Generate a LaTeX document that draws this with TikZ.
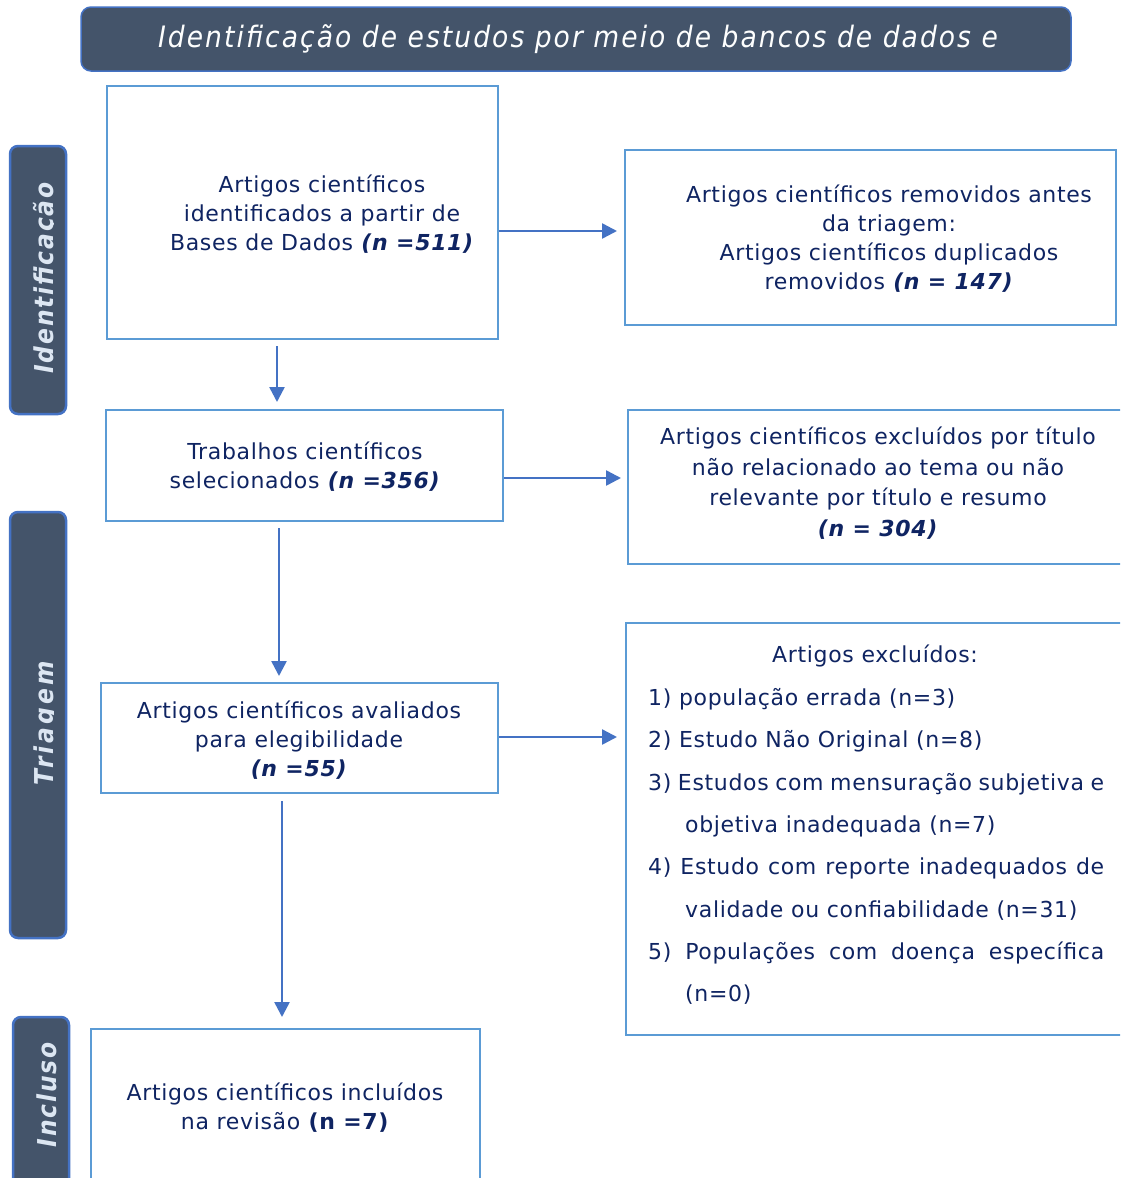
\documentclass[tikz,border=0pt]{standalone}
\usepackage{fontspec}
\setmainfont{DejaVu Sans}[LetterSpace=3]
\newfontfamily\hdrfont{DejaVu Sans Condensed}[LetterSpace=7]
\newfontfamily\sidefont{DejaVu Sans Condensed}[LetterSpace=7]
\newfontfamily\sidefontw{DejaVu Sans Condensed}[LetterSpace=12]
\usetikzlibrary{arrows.meta}
\definecolor{hdr}{HTML}{44546A}
\definecolor{edge}{HTML}{4472C4}
\definecolor{boxline}{HTML}{5B9BD5}
\definecolor{txt}{HTML}{0F2462}
\definecolor{lbl}{HTML}{DCE6F2}
\newcommand{\bi}[1]{\textbf{\textit{#1}}}
\tikzset{
  pbox/.style={draw=boxline, line width=2pt, fill=white, inner sep=0pt},
  side/.style={draw=edge, line width=2.5pt, fill=hdr, rounded corners=8pt, inner sep=0pt, minimum width=56pt},
  sidetxt/.style={text=lbl, font=\sidefont\fontsize{26}{30}\selectfont\bfseries\itshape, rotate=90, anchor=base, inner sep=0pt},
  body/.style={text=txt, font=\fontsize{22}{29}\selectfont, align=center, inner sep=0pt},
  item/.style={text=txt, font=\fontsize{22}{29}\selectfont, anchor=base west, inner sep=0pt},
  arr/.style={draw=edge, line width=2.5pt, -{Triangle[length=15pt,width=15pt]}}
}
\begin{document}
\begin{tikzpicture}[x=1pt,y=-1pt]
\useasboundingbox (0,0) rectangle (1120,1178);
\clip (0,0) rectangle (1120,1178);
\fill[white] (0,0) rectangle (1120,1178);
% header
\node[draw=edge, line width=1.5pt, fill=hdr, rounded corners=10pt, minimum width=990pt, minimum height=64pt, inner sep=0pt] (hd) at (576,39) {};
\node[text=white!95!lbl, font=\hdrfont\fontsize{29.5}{32}\selectfont\itshape, inner sep=0pt] (hdt) at (578,39) {Identificação de estudos por meio de bancos de dados e};
% side labels
\node[side, minimum height=268pt] (s1) at (38,280) {};
\node[side, minimum height=426pt] (s2) at (38,725) {};
\node[side, minimum height=190pt] (s3) at (41,1112) {};
\begin{scope}
\clip (0,0) rectangle (53,1178);
\node[sidetxt] (s1t) at (53,278) {Identificação};
\node[sidetxt, font=\sidefontw\fontsize{26}{30}\selectfont\bfseries\itshape] (s2t) at (53,723) {Triagem};
\end{scope}
\node[sidetxt] (s3t) at (56,1095) {Incluso};
% boxes
\node[pbox, minimum width=391pt, minimum height=253pt] (b1) at (302.5,212.5) {};
\node[pbox, minimum width=491pt, minimum height=175pt] (b2) at (870.5,237.5) {};
\node[pbox, minimum width=397pt, minimum height=111pt] (b3) at (304.5,465.5) {};
\node[pbox, minimum width=502pt, minimum height=154pt] (b4) at (879,487) {};
\node[pbox, minimum width=397pt, minimum height=110pt] (b5) at (299.5,738) {};
\node[pbox, minimum width=504pt, minimum height=412pt] (b6) at (878,829) {};
\node[pbox, minimum width=389pt, minimum height=171pt] (b7) at (285.5,1114.5) {};
% texts
\node[body] (t1) at (322,214) {Artigos científicos\\identificados a partir de\\Bases de Dados \bi{(n =511)}};
\node[body] (t2) at (889,239) {Artigos científicos removidos antes\\da triagem:\\Artigos científicos duplicados\\removidos \bi{(n = 147)}};
\node[body] (t3) at (305,467) {Trabalhos científicos\\selecionados \bi{(n =356)}};
\node[body, font=\fontsize{22}{30.7}\selectfont] (t4) at (878,483) {Artigos científicos excluídos por título\\não relacionado ao tema ou não\\relevante por título e resumo\\\bi{(n = 304)}};
\node[body] (t5) at (299,740) {Artigos científicos avaliados\\para elegibilidade\\\bi{(n =55)}};
\node[body] (t7) at (285,1108) {Artigos científicos incluídos\\na revisão \textbf{(n =7)}};
% exclusion list
\node[item, anchor=base] (l0) at (875,662) {Artigos excluídos:};
\node[item] (l1) at (648,705) {1) população errada (n=3)};
\node[item] (l2) at (648,747) {2) Estudo Não Original (n=8)};
\node[item] (l3) at (648,790) {\makebox[456pt][s]{3) Estudos com mensuração subjetiva e}};
\node[item] (l4) at (685,832) {objetiva inadequada (n=7)};
\node[item] (l5) at (648,874) {\makebox[456pt][s]{4) Estudo com reporte inadequados de}};
\node[item] (l6) at (685,917) {validade ou confiabilidade (n=31)};
\node[item] (l7) at (648,959) {\makebox[456pt][s]{5) Populações com doença específica}};
\node[item] (l8) at (685,1001) {(n=0)};
% arrows
\draw[arr] ([yshift=-18.5pt]b1.east) -- ([yshift=6.5pt,xshift=-7pt]b2.west);
\draw[arr] ([xshift=-25.5pt,yshift=-6pt]b1.south) -- ([xshift=-27.5pt,yshift=7pt]b3.north);
\draw[arr] ([yshift=-12.5pt]b3.east) -- ([yshift=9pt,xshift=-6pt]b4.west);
\draw[arr] ([xshift=-25.5pt,yshift=-6pt]b3.south) -- ([xshift=-20.5pt,yshift=6pt]b5.north);
\draw[arr] ([yshift=1pt]b5.east) -- ([yshift=92pt,xshift=-8pt]b6.west);
\draw[arr] ([xshift=-17.5pt,yshift=-7pt]b5.south) -- ([xshift=-3.5pt,yshift=11pt]b7.north);
\end{tikzpicture}
\end{document}
